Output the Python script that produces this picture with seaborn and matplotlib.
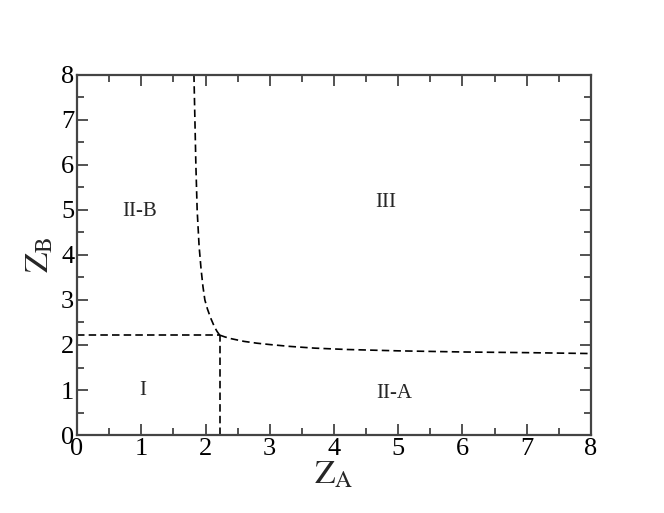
import matplotlib
matplotlib.use("Agg")
import matplotlib.pyplot as plt
import seaborn as sns
import pandas as pd
from matplotlib.ticker import MultipleLocator

# Boundary between II-B and III (near-vertical branch)
branchB_za = [2.22, 2.18, 2.14, 2.08, 2.03, 1.99, 1.96, 1.93, 1.90, 1.87, 1.85, 1.835, 1.82]
branchB_zb = [2.22, 2.30, 2.40, 2.60, 2.80, 3.00, 3.30, 3.70, 4.20, 5.00, 6.00, 7.00, 8.00]
# Boundary between II-A and III (near-horizontal branch)
branchA_za = [2.22, 2.30, 2.40, 2.60, 2.80, 3.00, 3.30, 3.70, 4.20, 5.00, 6.00, 7.00, 8.00]
branchA_zb = [2.22, 2.18, 2.14, 2.08, 2.04, 2.01, 1.97, 1.93, 1.90, 1.87, 1.845, 1.83, 1.81]
# Straight boundaries of region I
lineH_za = [0.0, 2.22]
lineH_zb = [2.22, 2.22]
lineV_za = [2.22, 2.22]
lineV_zb = [0.0, 2.22]

region_labels = ["I", "II-B", "III", "II-A"]
region_x = [1.03, 0.97, 4.8, 4.94]
region_y = [1.0, 4.96, 5.16, 0.93]

sns.set_style("ticks")
plt.rcParams["font.family"] = ["Liberation Serif", "DejaVu Serif"]
plt.rcParams["mathtext.fontset"] = "stix"

fig = plt.figure(figsize=(6.64, 5.13), dpi=100)
ax = fig.add_axes([0.116, 0.152, 0.774, 0.702])

for xs, ys in [(branchB_za, branchB_zb), (branchA_za, branchA_zb),
               (lineH_za, lineH_zb), (lineV_za, lineV_zb)]:
    df = pd.DataFrame({"ZA": xs, "ZB": ys})
    sns.lineplot(data=df, x="ZA", y="ZB", ax=ax, color="black",
                 linewidth=1.2, linestyle=(0, (4.5, 2.5)), sort=False,
                 estimator=None)

for t, x, y in zip(region_labels, region_x, region_y):
    ax.text(x, y, t, ha="center", va="center", fontsize=15)

ax.set_xlim(0, 8)
ax.set_ylim(0, 8)
ax.xaxis.set_major_locator(MultipleLocator(1))
ax.yaxis.set_major_locator(MultipleLocator(1))
ax.xaxis.set_minor_locator(MultipleLocator(0.5))
ax.yaxis.set_minor_locator(MultipleLocator(0.5))
ax.tick_params(which="both", direction="in", top=True, right=True,
               colors="#444444", labelcolor="black", width=1.3)
ax.tick_params(which="major", length=8, labelsize=19, pad=2)
ax.tick_params(which="minor", length=5)
for s in ax.spines.values():
    s.set_linewidth(1.6)
    s.set_color("#444444")

ax.set_xlabel(r"$\mathrm{Z}_\mathrm{A}$", fontsize=24, labelpad=0)
ax.set_ylabel(r"$\mathrm{Z}_\mathrm{B}$", fontsize=24, labelpad=4)

fig.savefig("out.png", dpi=100)
